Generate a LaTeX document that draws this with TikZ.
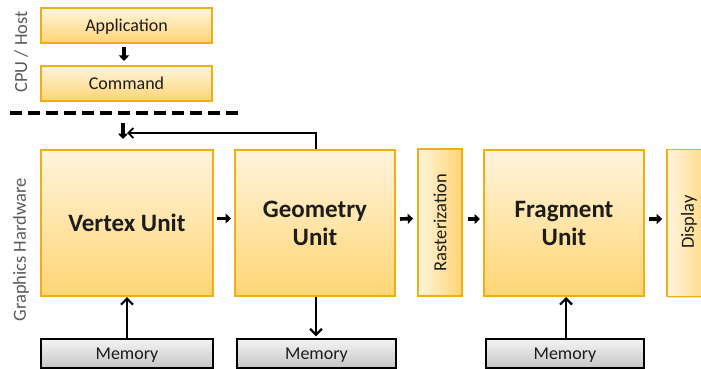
\documentclass[tikz,border=0pt]{standalone}
\usepackage{fontspec}
\setmainfont{Carlito}
\usetikzlibrary{arrows.meta,shadows}
\definecolor{boxedge}{HTML}{F0AE14}
\definecolor{boxtop}{HTML}{FFF4DC}
\definecolor{boxbot}{HTML}{FFD574}
\definecolor{memtop}{HTML}{F4F4F4}
\definecolor{membot}{HTML}{C6C6C6}
\definecolor{txt}{HTML}{1C1C1C}
\definecolor{sidetxt}{HTML}{5A5A5A}
\tikzset{
  unitshadow/.style={drop shadow={opacity=0.22,shadow xshift=1.2pt,shadow yshift=-1.2pt}},
  unitbox/.style={draw=boxedge,line width=2pt,top color=boxtop,bottom color=boxbot,
    unitshadow,text=txt,inner sep=0pt},
  hostbox/.style={unitbox,minimum width=171pt,minimum height=35pt,text depth=0pt,
    font=\fontsize{18}{20}\selectfont},
  bigbox/.style={unitbox,minimum height=146pt,align=center,
    font=\fontsize{25}{28}\selectfont\bfseries},
  slimbox/.style={draw=boxedge,line width=1.6pt,left color=boxtop,right color=boxbot,
    unitshadow,text=txt,minimum width=44pt,minimum height=147pt,inner sep=0pt},
  membox/.style={draw=black,line width=1.3pt,top color=memtop,bottom color=membot,
    text=txt,minimum height=29pt,inner sep=0pt,text depth=0pt,
    font=\fontsize{18}{20}\selectfont},
  sidelabel/.style={rotate=90,text=sidetxt,font=\fontsize{18.5}{20}\selectfont},
  slimlabel/.style={rotate=90,text=txt,font=\fontsize{18.5}{20}\selectfont},
  flow/.style={line width=3.6pt,-{Triangle[length=5.5pt,width=10pt]}},
  memlink/.style={line width=2.4pt,-{Straight Barb[length=6pt,width=12pt,line width=2.2pt]}},
  feedback/.style={line width=1.4pt,-{Straight Barb[length=5pt,width=10pt,line width=1.8pt]}},
  divider/.style={line width=4pt,dash pattern=on 12pt off 6pt}
}
\begin{document}
\begin{tikzpicture}[x=1pt,y=-1pt]
\useasboundingbox[fill=white] (0,0) rectangle (701,369);

% side labels
\node[sidelabel] (cpulbl) at (21,52) {CPU / Host};
\node[sidelabel] (gfxlbl) at (21,250) {Graphics Hardware};

% host side
\node[hostbox] (app) at (126.5,25.5) {Application};
\node[hostbox] (cmd) at (126.5,83.5) {Command};
\draw[flow] ([xshift=-2.5pt,yshift=-3pt]app.south) -- ([xshift=-2.5pt,yshift=4pt]cmd.north);

% host / hardware boundary
\coordinate (divl) at (10,113);
\coordinate (divr) at (242,113);
\draw[divider] (divl) -- (divr);

% pipeline units
\node[bigbox,minimum width=172pt] (vertex) at (127,223) {Vertex Unit};
\node[bigbox,minimum width=160pt] (geom) at (315,223) {Geometry\\Unit};
\node[slimbox] (raster) at (440,222.5) {};
\node[slimlabel] (rasterlbl) at (raster.center) {Rasterization};
\node[bigbox,minimum width=160pt] (frag) at (564,223) {Fragment\\Unit};
\node[slimbox,minimum width=46pt] (disp) at (690,223) {};
\node[slimlabel] (displbl) at (689,222) {Display};

% memories
\node[membox,minimum width=172pt] (mem1) at (127,353.5) {Memory};
\node[membox,minimum width=159pt] (mem2) at (316.5,353.5) {Memory};
\node[membox,minimum width=158pt] (mem3) at (565,353.5) {Memory};

% command stream into the vertex unit
\coordinate (cmdin) at (123,123);
\coordinate (cmdtip) at (123,139);
\draw[flow] (cmdin) -- (cmdtip);

% geometry feedback loop
\coordinate (fbend) at (127,133);
\draw[feedback] ([xshift=1pt]geom.north) |- (fbend);

% pipeline flow
\draw[flow] ([xshift=3pt,yshift=4.5pt]vertex.east) -- ([xshift=-3pt,yshift=4.5pt]geom.west);
\draw[flow] ([xshift=4pt,yshift=4pt]geom.east) -- ([xshift=-4pt,yshift=4pt]raster.west);
\draw[flow] ([xshift=5pt,yshift=3.5pt]raster.east) -- ([xshift=-3pt,yshift=4pt]frag.west);
\draw[flow] ([xshift=4pt,yshift=4pt]frag.east) -- ([xshift=-4pt,yshift=4pt]disp.west);

% memory traffic
\draw[memlink] (mem1.north) -- (mem1.north |- vertex.south);
\draw[memlink] ([xshift=1pt]geom.south) -- ([xshift=1pt,yshift=2pt]geom.south |- mem2.north);
\draw[memlink] ([xshift=1pt]mem3.north) -- ([xshift=1pt]mem3.north |- frag.south);
\end{tikzpicture}
\end{document}
